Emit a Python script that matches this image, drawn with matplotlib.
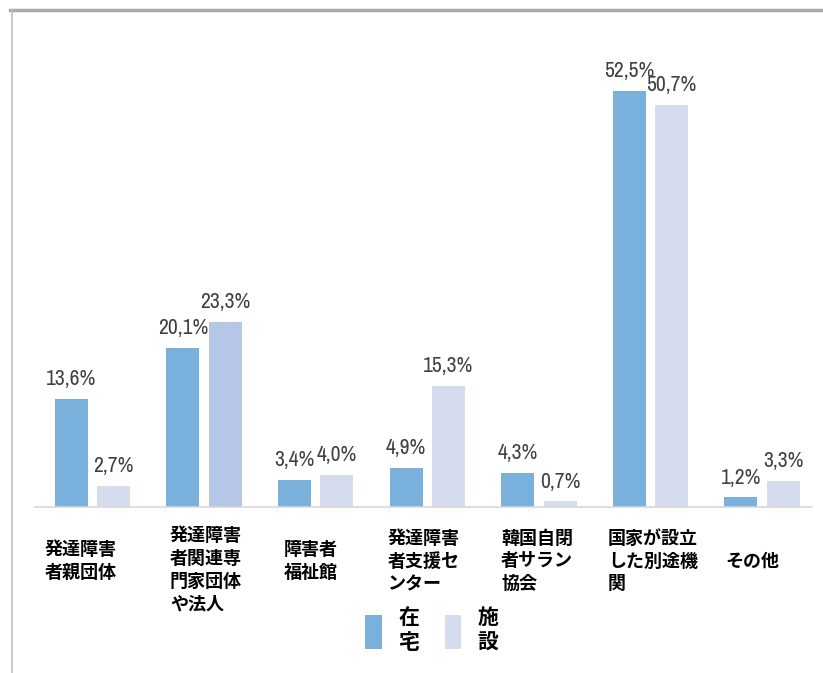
import numpy as np
import matplotlib
matplotlib.use("Agg")
from matplotlib import pyplot as plt
from matplotlib import font_manager
from matplotlib.lines import Line2D
from matplotlib.patches import Patch

plt.rcParams['font.family'] = ['Noto Sans CJK JP', 'DejaVu Sans']

categories = ['発達障害\n者親団体', '発達障害\n者関連専\n門家団体\nや法人', '障害者\n福祉館',
              '発達障害\n者支援セ\nンター', '韓国自閉\n者サラン\n協会', '国家が設立\nした別途機\n関', 'その他']
home = [13.6, 20.1, 3.4, 4.9, 4.3, 52.5, 1.2]
facility = [2.7, 23.3, 4.0, 15.3, 0.7, 50.7, 3.3]
series_names = ['在\n宅', '施\n設']

blue = '#79b1dc'
light = '#d4dcee'
light_colors = [light] * len(facility)
light_colors[1] = '#b6c6e6'

# look for a narrow font for the value labels (the original uses a condensed face)
narrow = None
for f in font_manager.fontManager.ttflist:
    n = (f.name + ' ' + f.fname).lower()
    if ('narrow' in n or 'condensed' in n) and 'bold' not in n and 'italic' not in n \
            and 'oblique' not in n and f.weight in (400, 'normal', 'regular'):
        narrow = f.fname
        if 'narrow' in n:
            break
if narrow:
    num_prop = font_manager.FontProperties(fname=narrow, size=15.5)
else:
    num_prop = font_manager.FontProperties(family='Liberation Sans', size=11.5)

W, H = 823, 673
fig = plt.figure(figsize=(W / 100, H / 100), dpi=100)
ax = fig.add_axes([35 / W, 1 - 507 / H, (812 - 35) / W, (507 - 60) / H])

x = np.arange(len(categories))
bw = 0.296
off = 0.19
b1 = ax.bar(x - off, home, bw, color=blue)
b2 = ax.bar(x + off, facility, bw, color=light_colors)

ax.set_xlim(-0.515, 6.448)
ax.set_ylim(0, 56.4)

for bars, vals in ((b1, home), (b2, facility)):
    for r, v in zip(bars, vals):
        ax.annotate(f'{v:.1f}%'.replace('.', ','), (r.get_x() + r.get_width() / 2, v),
                    xytext=(0, 10), textcoords='offset points', ha='center', va='baseline',
                    color='#404040', fontproperties=num_prop)

for s in ['top', 'right', 'left']:
    ax.spines[s].set_visible(False)
ax.spines['bottom'].set_color('#d8d8d8')
ax.spines['bottom'].set_linewidth(1.2)
ax.set_xticks([])
ax.set_yticks([])

# category labels, left aligned under each group
label_x = [45, 170, 284, 388, 501, 608, 725]
for lx, lab in zip(label_x, categories):
    ly = 570 if lab.count('\n') == 3 else 561
    fig.text(lx / W, 1 - ly / H, lab, ha='left', va='center', fontsize=13,
             fontweight='bold', linespacing=1.25, color='black')

handles = [Patch(facecolor=blue), Patch(facecolor=light)]
fig.legend(handles, series_names, loc='center', bbox_to_anchor=(432 / W, 1 - 630 / H),
           ncol=2, frameon=False, prop={'size': 15, 'weight': 'bold'},
           handlelength=0.8, handleheight=2.2, handletextpad=0.8, columnspacing=1.2,
           labelspacing=0.2)

# frame lines
fig.add_artist(Line2D([10 / W, 1], [1 - 10 / H, 1 - 10 / H], color='#a9a9a9', lw=2.5))
fig.add_artist(Line2D([12 / W, 12 / W], [0, 1 - 10 / H], color='#bdbdbd', lw=1.2))

fig.savefig('out.png', dpi=100)
